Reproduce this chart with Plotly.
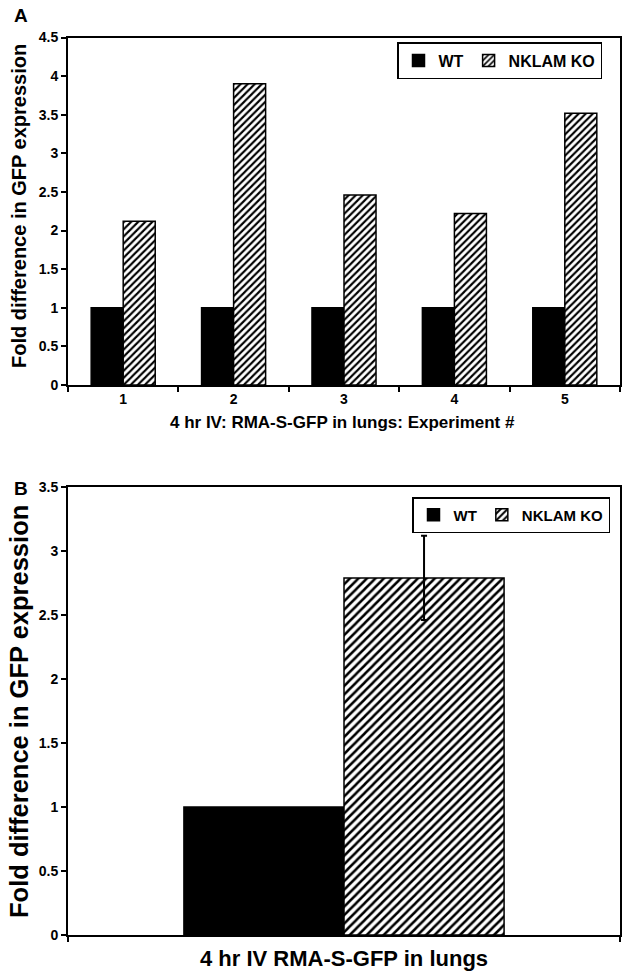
import plotly.graph_objects as go

# Data
experiments = ["1", "2", "3", "4", "5"]
wt_values_a = [1, 1, 1, 1, 1]
ko_values_a = [2.12, 3.90, 2.46, 2.22, 3.52]

summary_category = ["4 hr IV RMA-S-GFP in lungs"]
wt_values_b = [1.0]
ko_values_b = [2.79]
ko_error_b = [0.33]

FONT = "Liberation Sans, Arial, sans-serif"
OFF = 0  # page body margin removed by post_script
W, H = 630 - OFF, 978 - OFF

def px_x(x):
    return (x - OFF) / W

def px_y(y):
    return 1 - (y - OFF) / H

hatch_a = dict(shape="/", fgcolor="black", bgcolor="white", size=5, solidity=0.42, fillmode="replace")
hatch_b = dict(shape="/", fgcolor="black", bgcolor="white", size=6, solidity=0.42, fillmode="replace")

fig = go.Figure()

fig.add_trace(go.Bar(x=experiments, y=wt_values_a, name="WT", xaxis="x", yaxis="y",
                     marker=dict(color="black", line=dict(color="black", width=1.5)),
                     legend="legend"))
fig.add_trace(go.Bar(x=experiments, y=ko_values_a, name="NKLAM KO", xaxis="x", yaxis="y",
                     marker=dict(color="white", pattern=hatch_a, line=dict(color="black", width=1.5)),
                     legend="legend"))

fig.add_trace(go.Bar(x=summary_category, y=wt_values_b, name="WT", xaxis="x2", yaxis="y2",
                     marker=dict(color="black", line=dict(color="black", width=1.5)),
                     legend="legend2"))
fig.add_trace(go.Bar(x=summary_category, y=ko_values_b, name="NKLAM KO", xaxis="x2", yaxis="y2",
                     marker=dict(color="white", pattern=hatch_b, line=dict(color="black", width=1.5)),
                     error_y=dict(type="data", array=ko_error_b, color="black", thickness=2, width=3),
                     legend="legend2"))

axis_common = dict(showline=True, linecolor="black", linewidth=2, mirror=True, showgrid=False,
                   zeroline=False, ticks="outside", ticklen=5, tickwidth=1.5, tickcolor="black",
                   automargin=False)

xdom = [px_x(68), px_x(620)]

fig.update_layout(
    template="none",
    width=W, height=H,
    margin=dict(l=0, r=0, t=0, b=0, pad=0),
    paper_bgcolor="white", plot_bgcolor="white",
    font=dict(family=FONT, color="black", weight="bold"),
    barmode="group", bargap=0.42, bargroupgap=0,
    xaxis=dict(domain=xdom, anchor="y", type="category", tickson="boundaries",
               tickfont=dict(size=14, family=FONT, weight="bold"), **axis_common),
    yaxis=dict(domain=[px_y(385), px_y(37.5)], anchor="x", range=[0, 4.5], dtick=0.5,
               tickfont=dict(size=14, family=FONT, weight="bold"), **axis_common),
    xaxis2=dict(domain=xdom, anchor="y2", type="category", tickson="boundaries",
                showticklabels=False, **axis_common),
    yaxis2=dict(domain=[px_y(935), px_y(487)], anchor="x2", range=[0, 3.5], dtick=0.5,
                tickfont=dict(size=14, family=FONT, weight="bold"), **axis_common),
    legend=dict(orientation="h", x=px_x(602), xanchor="right", y=px_y(42), yanchor="top",
                bordercolor="black", borderwidth=1.5, bgcolor="white",
                font=dict(size=16, family=FONT, weight="bold"),
                itemwidth=30, tracegroupgap=0),
    legend2=dict(orientation="h", x=px_x(610), xanchor="right", y=px_y(497), yanchor="top",
                 bordercolor="black", borderwidth=1.5, bgcolor="white",
                 font=dict(size=15, family=FONT, weight="bold"),
                 itemwidth=30, tracegroupgap=0),
    showlegend=True,
)

annotations = [
    dict(text="A", x=px_x(12), y=px_y(15), xanchor="left", yanchor="middle",
         font=dict(size=19, family=FONT, weight="bold")),
    dict(text="B", x=px_x(12), y=px_y(488), xanchor="left", yanchor="middle",
         font=dict(size=19, family=FONT, weight="bold")),
    dict(text="Fold difference in GFP expression", x=px_x(19), y=px_y(206), textangle=-90,
         xanchor="center", yanchor="middle", font=dict(size=20, family=FONT, weight="bold")),
    dict(text="4 hr IV: RMA-S-GFP in lungs: Experiment #", x=px_x(343), y=px_y(422),
         xanchor="center", yanchor="middle", font=dict(size=17, family=FONT, weight="bold")),
    dict(text="Fold difference in GFP expression", x=px_x(19), y=px_y(712), textangle=-90,
         xanchor="center", yanchor="middle", font=dict(size=25.5, family=FONT, weight="bold")),
    dict(text="4 hr IV RMA-S-GFP in lungs", x=px_x(344), y=px_y(958),
         xanchor="center", yanchor="middle", font=dict(size=22, family=FONT, weight="bold")),
]
for a in annotations:
    a.update(xref="paper", yref="paper", showarrow=False)
fig.update_layout(annotations=annotations)

fig.write_html("out.html", config={"displayModeBar": False},
               post_script="document.body.style.margin='0px';")
